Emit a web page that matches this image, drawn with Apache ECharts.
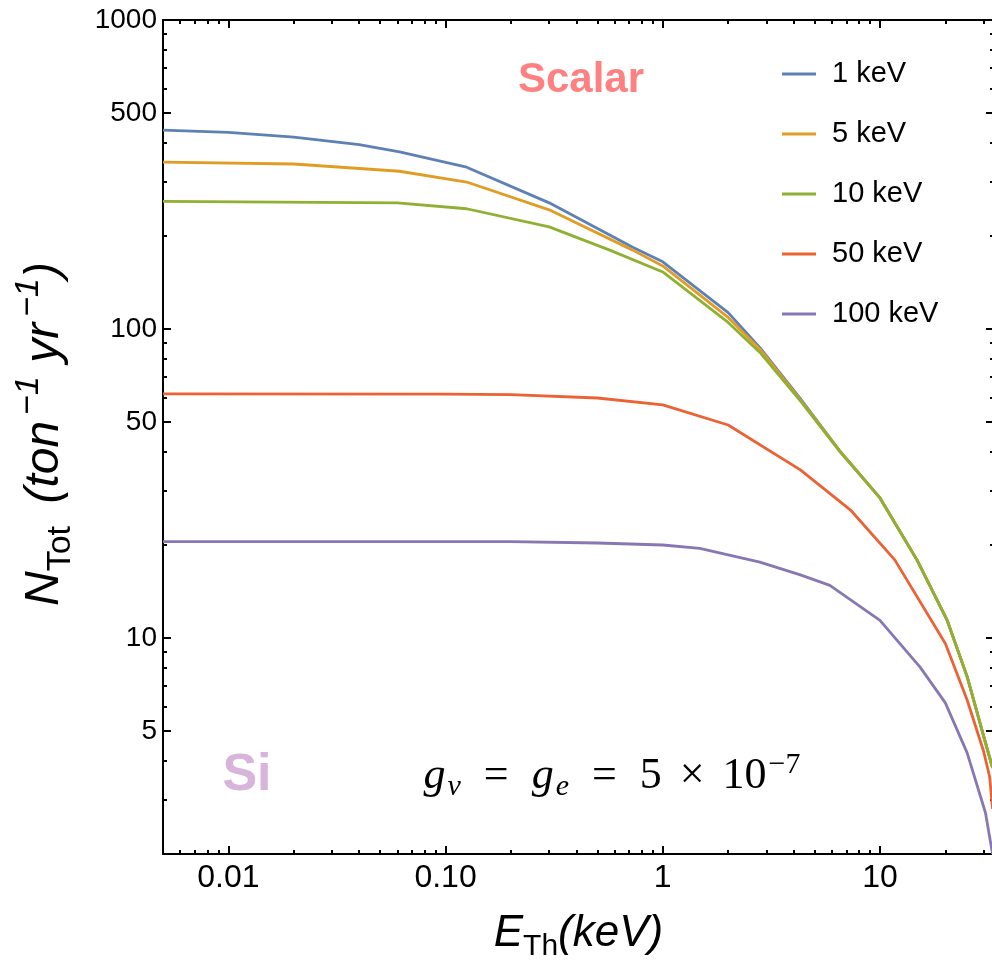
<!DOCTYPE html>
<html><head><meta charset="utf-8">
<script src="https://cdn.jsdelivr.net/npm/echarts@6/dist/echarts.min.js"></script>
<style>html,body{margin:0;padding:0;background:#fff;overflow:hidden}#c{width:992px;height:960px}</style>
</head><body><div id="c"></div>
<script>
// ---- data ----
const seriesNames = ['1 keV', '5 keV', '10 keV', '50 keV', '100 keV'];
const seriesColors = ['#5E81B5', '#E19C24', '#8FB032', '#EB6235', '#8778B3'];

const x1keV = [0.005, 0.01, 0.02, 0.04, 0.0614, 0.125, 0.3, 0.727, 1, 2, 2.8, 4.3, 6.5, 10, 14.8, 20.4, 25.2, 29.8, 33];
const y1keV = [440, 433, 418, 395, 374, 334, 256, 184, 165, 113, 87, 59.5, 40.5, 28.4, 17.9, 11.4, 7.5, 4.9, 3.8];

const x5keV = [0.005, 0.02, 0.0614, 0.125, 0.3, 0.727, 1, 2, 2.8, 4.3, 6.5, 10, 14.8, 20.4, 25.2, 29.8, 33];
const y5keV = [347, 342, 324, 299, 243, 180, 160, 109, 86, 59, 40.5, 28.4, 17.9, 11.4, 7.5, 4.9, 3.8];

const x10keV = [0.005, 0.06, 0.125, 0.3, 0.57, 1, 2, 2.8, 4.3, 6.5, 10, 14.8, 20.4, 25.2, 29.8, 33];
const y10keV = [259, 256, 245, 214, 180, 153, 105, 84, 58.5, 40.3, 28.4, 17.9, 11.4, 7.5, 4.9, 3.8];

const x50keV = [0.005, 0.1, 0.2, 0.5, 1, 2, 4.3, 7.3, 11.7, 20, 25.2, 30, 32, 33];
const y50keV = [61.7, 61.6, 61.3, 59.8, 56.8, 48.9, 35, 26, 17.9, 9.6, 6.3, 4.3, 3.55, 2.8];

const x100keV = [0.005, 0.2, 0.5, 1, 1.48, 2.8, 4.3, 5.88, 10, 15.3, 20, 25.2, 30.6, 33];
const y100keV = [20.5, 20.5, 20.3, 20.0, 19.5, 17.6, 16.0, 14.8, 11.4, 8.05, 6.17, 4.25, 2.72, 2.0];

const xTickValues = [0.01, 0.1, 1, 10];
const xTickLabels = ['0.01', '0.10', '1', '10'];
const xMinorTicks = [0.006, 0.007, 0.008, 0.009, 0.02, 0.03, 0.04, 0.05, 0.06, 0.07, 0.08, 0.09,
  0.2, 0.3, 0.4, 0.5, 0.6, 0.7, 0.8, 0.9, 2, 3, 4, 5, 6, 7, 8, 9, 20, 30];
const yTickValues = [5, 10, 50, 100, 500, 1000];
const yTickLabels = ['5', '10', '50', '100', '500', '1000'];
const yMinorTicks = [2, 3, 4, 6, 7, 8, 9, 20, 30, 40, 60, 70, 80, 90, 200, 300, 400, 600, 700, 800, 900];

const xRange = [0.005, 33.5];
const yRange = [2, 1000];

// ---- chart ----
const xs = [x1keV, x5keV, x10keV, x50keV, x100keV];
const ys = [y1keV, y5keV, y10keV, y50keV, y100keV];
const SANS = '"Liberation Sans", Arial, sans-serif';
const SERIF = '"Liberation Serif", "DejaVu Serif", serif';

function lookup(vals, labels) {
  return function (v) {
    let best = 0, bd = Infinity;
    vals.forEach((t, i) => { const d = Math.abs(Math.log10(t) - Math.log10(v)); if (d < bd) { bd = d; best = i; } });
    return bd < 1e-6 ? labels[best] : '';
  };
}

function xAxisDef(position, major, showLabel) {
  return {
    type: 'log', logBase: 10, min: xRange[0], max: xRange[1], position: position, offset: 0,
    axisLine: { show: major, onZero: false, lineStyle: { color: '#000', width: 2 } },
    axisTick: { show: true, inside: true, length: major ? 8 : 4, lineStyle: { color: '#000', width: 2 },
      customValues: major ? xTickValues : xMinorTicks },
    axisLabel: { show: showLabel, customValues: xTickValues, formatter: lookup(xTickValues, xTickLabels),
      fontFamily: SANS, fontSize: 32, color: '#000', margin: 8 },
    splitLine: { show: false }, minorTick: { show: false }
  };
}
function yAxisDef(position, major, showLabel) {
  return {
    type: 'log', logBase: 10, min: yRange[0], max: yRange[1], position: position, offset: 0,
    axisLine: { show: major, onZero: false, lineStyle: { color: '#000', width: 2 } },
    axisTick: { show: true, inside: true, length: major ? 8 : 4, lineStyle: { color: '#000', width: 2 },
      customValues: major ? yTickValues : yMinorTicks },
    axisLabel: { show: showLabel, customValues: yTickValues, formatter: lookup(yTickValues, yTickLabels),
      fontFamily: SANS, fontSize: 28, color: '#000', margin: 6 },
    splitLine: { show: false }, minorTick: { show: false }
  };
}

const xTitleRich = {
  i: { fontFamily: SANS, fontStyle: 'italic', fontSize: 44, color: '#000' },
  s: { fontFamily: SANS, fontSize: 30, color: '#000', verticalAlign: 'bottom', padding: [26, 0, 0, 0] }
};
const yTitleRich = {
  i: { fontFamily: SANS, fontStyle: 'italic', fontSize: 48, color: '#000' },
  s: { fontFamily: SANS, fontSize: 34, color: '#000', verticalAlign: 'bottom', padding: [30, 9, 0, 0] },
  p: { fontFamily: SANS, fontStyle: 'italic', fontSize: 34, color: '#000', verticalAlign: 'top', padding: [0, 0, 32, 6] }
};

const xMain = xAxisDef('bottom', true, true);
xMain.name = '{i|E}{s|Th}{i|(keV)}';
xMain.nameLocation = 'middle';
xMain.nameGap = 52;
xMain.nameTextStyle = { rich: xTitleRich };

const yMain = yAxisDef('left', true, true);
yMain.name = '{i|N}{s|Tot}{i| (ton}{p|−1}{i| yr}{p|−1}{i|)}';
yMain.nameLocation = 'middle';
yMain.nameRotate = 90;
yMain.nameGap = 85;
yMain.nameTextStyle = { rich: yTitleRich, padding: [0, 0, 0, 6] };

const option = {
  backgroundColor: '#fff',
  animation: false,
  grid: { left: 163, right: -2, top: 20, bottom: 106, containLabel: false, outerBoundsMode: 'none' },
  xAxis: [xMain, xAxisDef('bottom', false, false), xAxisDef('top', true, false), xAxisDef('top', false, false)],
  yAxis: [yMain, yAxisDef('left', false, false), yAxisDef('right', true, false), yAxisDef('right', false, false)],
  legend: {
    orient: 'vertical', left: 782, top: 59, padding: 0, itemGap: 30,
    icon: 'rect', itemWidth: 34, itemHeight: 3,
    textStyle: { fontFamily: SANS, fontSize: 29, color: '#000', lineHeight: 30, padding: [0, 0, 0, 11] },
    data: seriesNames
  },
  series: seriesNames.map((n, k) => ({
    name: n, type: 'line', xAxisIndex: 0, yAxisIndex: 0,
    showSymbol: false, symbol: 'none', smooth: false,
    lineStyle: { color: seriesColors[k], width: 2.8 },
    itemStyle: { color: seriesColors[k] },
    data: xs[k].map((x, i) => [x, ys[k][i]])
  })),
  graphic: [
    { type: 'text', x: 581, y: 80, z: 100,
      style: { text: 'Scalar', font: 'bold 42px ' + SANS, fill: '#FF8080', align: 'center', verticalAlign: 'middle' } },
    { type: 'text', x: 247, y: 776, z: 100,
      style: { text: 'Si', font: 'bold 52px ' + SANS, fill: '#D8B4DA', align: 'center', verticalAlign: 'middle' } },
    { type: 'text', x: 612, y: 776, z: 100,
      style: {
        text: '{g|g}{s|ν}{r|=}{g|g}{s|e}{r|=}{t|5}{x|×}{t|10}{p|−7}',
        align: 'center', verticalAlign: 'middle', fill: '#000',
        rich: {
          g: { fontFamily: SERIF, fontStyle: 'italic', fontSize: 44, fill: '#000' },
          t: { fontFamily: SERIF, fontSize: 44, fill: '#000' },
          r: { fontFamily: SERIF, fontSize: 44, fill: '#000', padding: [0, 23, 0, 23] },
          x: { fontFamily: SERIF, fontSize: 44, fill: '#000', padding: [0, 18, 0, 18] },
          s: { fontFamily: SERIF, fontStyle: 'italic', fontSize: 30, fill: '#000', verticalAlign: 'bottom', padding: [20, 0, 0, 2] },
          p: { fontFamily: SERIF, fontSize: 30, fill: '#000', verticalAlign: 'top', padding: [0, 0, 22, 2] }
        }
      } }
  ]
};
const chart = echarts.init(document.getElementById('c'), null, { renderer: 'canvas' });
chart.setOption(option);
</script>
</body></html>
